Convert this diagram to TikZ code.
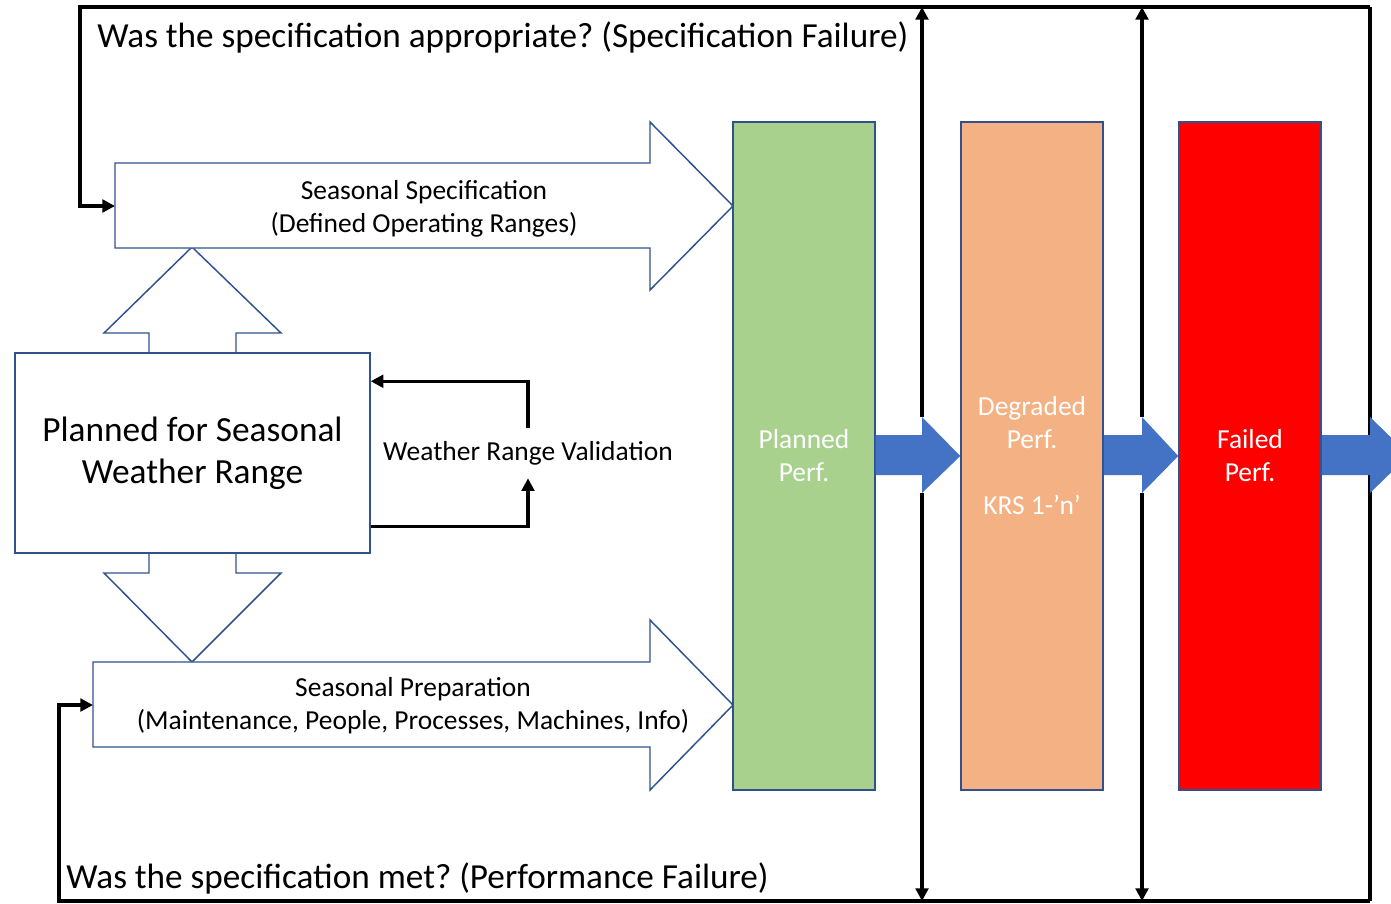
\documentclass[tikz,border=0pt]{standalone}
\usepackage{fontspec}
\setmainfont{Carlito}
\frenchspacing
\usetikzlibrary{arrows.meta,positioning,calc}

\definecolor{outl}{RGB}{47,82,143}
\definecolor{plangreen}{HTML}{A9D18E}
\definecolor{degrorange}{HTML}{F4B183}
\definecolor{failred}{HTML}{FF0000}
\definecolor{flowblue}{HTML}{4472C4}

\begin{document}
\begin{tikzpicture}[x=0.75pt,y=-0.75pt,
blk/.style={draw=outl,line width=1.1pt,fill=white},
bar/.style={draw=outl,line width=1.1pt,minimum width=106.5pt,minimum height=501pt,text=white,align=center,font=\fontsize{20.6}{24.75}\selectfont},
flow/.style={fill=flowblue},
fb/.style={line width=2.6pt,line join=miter},
tip/.style={-{Triangle[length=9.5pt,width=9.5pt]}},
lbl/.style={align=center,font=\fontsize{20.6}{24.75}\selectfont},
qtxt/.style={inner sep=0pt,font=\fontsize{26.4}{30}\selectfont}
]
\useasboundingbox (0,0) rectangle (1391,903);

% corners of the feedback frame
\coordinate (tr) at (1370,7);
\coordinate (br) at (1370,901);

% up / down block arrow, partly under the box
\draw[blk] (192,247) -- (281,333) -- (236,333) -- (236,573) -- (281,573) -- (192,662)
  -- (104,573) -- (149,573) -- (149,333) -- (104,333) -- cycle;

% specification and preparation arrows
\draw[blk] (115,163) -- (650,163) -- (650,122) -- (733,206) -- (650,290) -- (650,248) -- (115,248) -- cycle;
\coordinate (specin) at (115,206);
\node[lbl] (spec) at (424,209) {Seasonal Specification\\(Defined Operating Ranges)};

\draw[blk] (93,662) -- (650,662) -- (650,620) -- (733,705) -- (650,790) -- (650,747) -- (93,747) -- cycle;
\coordinate (prepin) at (93,705);
\node[lbl] (prep) at (413,706) {Seasonal Preparation\\(Maintenance, People, Processes, Machines, Info)};

\node[blk,minimum width=266.25pt,minimum height=150pt,align=center,font=\fontsize{26.5}{31.5}\selectfont] (wx) at (192.5,453) {Planned for Seasonal\\Weather Range};

% performance bars
\node[bar,fill=plangreen] (plan) at (804,456) {Planned\\Perf.};
\node[bar,fill=degrorange] (degr) at (1032,456) {Degraded\\Perf.\\[24.75pt]KRS 1-’n’};
\node[bar,fill=failred] (fail) at (1250,456) {Failed\\Perf.};

% questions
\node[qtxt,anchor=west] (specq) at (97,37) {Was the specification appropriate? (Specification Failure)};
\node[qtxt,anchor=west] (metq) at (66,878) {Was the specification met? (Performance Failure)};

% weather range validation loop
\node[lbl,minimum height=37.5pt] (wrv) at (528,453) {Weather Range Validation};
\draw[fb,tip] ($(wx.south east)+(0,-27)$) -| (wrv.south);
\draw[fb,tip] (wrv.north) |- ($(wx.north east)+(0,29)$);

% feedback frame
\coordinate (h1t) at (922,417);
\coordinate (h1b) at (922,493);
\coordinate (h2t) at (1142,417);
\coordinate (h2b) at (1142,493);
\draw[fb,tip] (tr) -| ($(specin)+(-35,0)$) -- (specin);
\draw[fb,tip] (br) -| ($(prepin)+(-34,0)$) -- (prepin);
\draw[fb] (tr) -- (br);
\draw[fb,tip] (h1t) -- (h1t |- tr);
\draw[fb,tip] (h1b) -- (h1b |- br);
\draw[fb,tip] (h2t) -- (h2t |- tr);
\draw[fb,tip] (h2b) -- (h2b |- br);

% flow between bars
\fill[flow] (plan.east |- 0,435) -- (h1t |- 0,435) -- (h1t) -- (degr.west) -- (h1b) -- (h1b |- 0,475) -- (plan.east |- 0,475) -- cycle;
\fill[flow] (degr.east |- 0,435) -- (h2t |- 0,435) -- (h2t) -- (fail.west) -- (h2b) -- (h2b |- 0,475) -- (degr.east |- 0,475) -- cycle;
\fill[flow] (fail.east |- 0,435) -- (1370,435) -- (1370,417) -- (1409,455) -- (1370,493) -- (1370,475) -- (fail.east |- 0,475) -- cycle;
\end{tikzpicture}
\end{document}
